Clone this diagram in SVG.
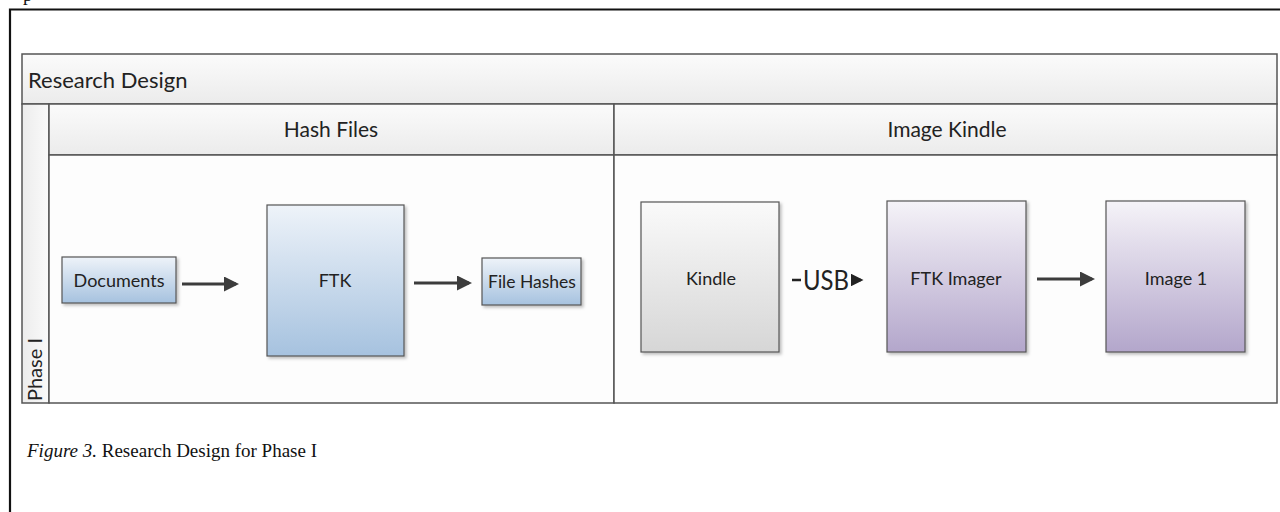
<svg xmlns="http://www.w3.org/2000/svg" width="1280" height="512" viewBox="0 0 1280 512">
<style>
.hdr{fill:url(#gHdr);stroke:#555;stroke-width:1.5}
.body{fill:#fdfdfd;stroke:#555;stroke-width:1.5}
.lbl{font-family:Lato,"Open Sans",sans-serif;fill:#222}
.box{stroke:#555;stroke-width:1.2}
.conn{stroke:#3c3c3c;stroke-width:3;fill:none}
.cap{font-family:"Liberation Serif",serif;font-size:19px;fill:#111}
</style>
<defs>
<linearGradient id="gHdr" x1="0" y1="0" x2="0" y2="1"><stop offset="0" stop-color="#fbfbfb"/><stop offset="1" stop-color="#ebebeb"/></linearGradient>
<linearGradient id="gPhase" x1="0" y1="0" x2="1" y2="0"><stop offset="0" stop-color="#ececec"/><stop offset="1" stop-color="#fafafa"/></linearGradient>
<linearGradient id="gBlue" x1="0" y1="0" x2="0" y2="1"><stop offset="0" stop-color="#eef3f9"/><stop offset="1" stop-color="#a6c2df"/></linearGradient>
<linearGradient id="gGray" x1="0" y1="0" x2="0" y2="1"><stop offset="0" stop-color="#fafafa"/><stop offset="1" stop-color="#d6d6d6"/></linearGradient>
<linearGradient id="gPurp" x1="0" y1="0" x2="0" y2="1"><stop offset="0" stop-color="#f5f3f8"/><stop offset="1" stop-color="#b3a6cb"/></linearGradient>
<filter id="sh" x="-10%" y="-10%" width="130%" height="130%"><feDropShadow dx="2" dy="2" stdDeviation="1.5" flood-color="#000" flood-opacity="0.25"/></filter>
<marker id="ah" markerWidth="5" markerHeight="5" refX="4" refY="2.5" orient="auto" markerUnits="strokeWidth"><path d="M0,0 L5,2.5 L0,5 Z" fill="#3c3c3c"/></marker>
<marker id="ahs" markerWidth="5" markerHeight="5" refX="4" refY="2.5" orient="auto" markerUnits="strokeWidth"><path d="M0,0 L5,2.5 L0,5 Z" fill="#222"/></marker>
</defs>
<rect width="1280" height="512" fill="#fff"/>
<text x="23" y="1" class="cap" font-size="26">p</text>
<path d="M10,512 V9.5 H1280" fill="none" stroke="#111" stroke-width="2.2"/>

<g id="pool">
<rect x="22" y="54" width="1255" height="50" class="hdr"/>
<text x="28" y="88" class="lbl" font-size="22">Research Design</text>
<rect x="22" y="104" width="27" height="299" fill="url(#gPhase)" stroke="#555" stroke-width="1.5"/>
<text transform="translate(42,401) rotate(-90)" class="lbl" font-size="20">Phase I</text>
</g>
<g id="lane-hash">
<rect x="49" y="104" width="565" height="51" class="hdr"/>
<text x="331" y="137" class="lbl" font-size="21" text-anchor="middle">Hash Files</text>
<rect x="49" y="155" width="565" height="248" class="body"/>
</g>
<g id="lane-kindle">
<rect x="614" y="104" width="663" height="51" class="hdr"/>
<text x="947" y="137" class="lbl" font-size="21" text-anchor="middle">Image Kindle</text>
<rect x="614" y="155" width="663" height="248" class="body"/>
</g>

<g id="documents"><rect x="62" y="257" width="114" height="46" fill="url(#gBlue)" class="box" filter="url(#sh)"/><text x="119" y="287" class="lbl" font-size="18" text-anchor="middle">Documents</text></g>
<g id="ftk"><rect x="267" y="205" width="137" height="151" fill="url(#gBlue)" class="box" filter="url(#sh)"/><text x="335" y="287" class="lbl" font-size="18" text-anchor="middle">FTK</text></g>
<g id="filehashes"><rect x="482" y="258" width="99" height="47" fill="url(#gBlue)" class="box" filter="url(#sh)"/><text x="532" y="288" class="lbl" font-size="17.5" text-anchor="middle">File Hashes</text></g>
<g id="kindle"><rect x="641" y="202" width="138" height="150" fill="url(#gGray)" class="box" filter="url(#sh)"/><text x="711" y="285" class="lbl" font-size="18" text-anchor="middle">Kindle</text></g>
<g id="ftkimager"><rect x="887" y="201" width="139" height="151" fill="url(#gPurp)" class="box" filter="url(#sh)"/><text x="956" y="285" class="lbl" font-size="18" text-anchor="middle">FTK Imager</text></g>
<g id="image1"><rect x="1106" y="201" width="139" height="151" fill="url(#gPurp)" class="box" filter="url(#sh)"/><text x="1176" y="285" class="lbl" font-size="18" text-anchor="middle">Image 1</text></g>

<g id="connectors">
<line x1="182" y1="284" x2="236" y2="284" class="conn" marker-end="url(#ah)"/>
<line x1="414" y1="283" x2="469" y2="283" class="conn" marker-end="url(#ah)"/>
<line x1="1037" y1="279" x2="1092" y2="279" class="conn" marker-end="url(#ah)"/>
<line x1="792" y1="280" x2="861" y2="280" stroke="#222" stroke-width="2.5" marker-end="url(#ahs)"/>
<rect x="801" y="264" width="50" height="30" fill="#fdfdfd"/>
<text x="803" y="290" class="lbl" font-size="26" textLength="46" lengthAdjust="spacingAndGlyphs" fill="#111">USB</text>
</g>

<text x="27" y="457" class="cap"><tspan font-style="italic">Figure 3.</tspan> Research Design for Phase I</text>
</svg>
